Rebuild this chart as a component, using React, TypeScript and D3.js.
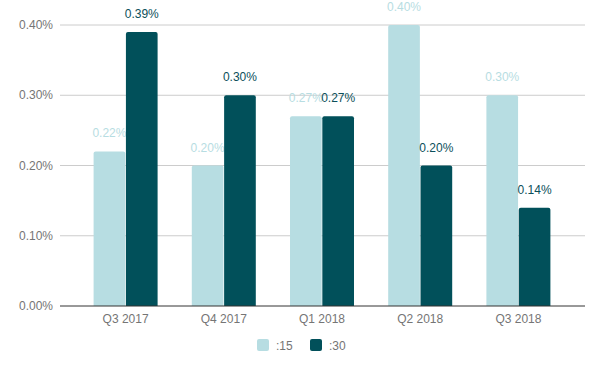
import React from 'react';
import { scaleBand, scaleLinear, format } from 'd3';

const categories = ['Q3 2017', 'Q4 2017', 'Q1 2018', 'Q2 2018', 'Q3 2018'];
const seriesNames = [':15', ':30'];
const values15 = [0.0022, 0.002, 0.0027, 0.004, 0.003];
const values30 = [0.0039, 0.003, 0.0027, 0.002, 0.0014];
const yTicks = [0, 0.001, 0.002, 0.003, 0.004];
const colors = ['#b7dde2', '#01505a'];

const width = 604;
const height = 371;
const gridLeft = 60;
const gridRight = 585;

export default function App() {
  const x = scaleBand<string>().domain(categories).range([76.5, 567.5]).paddingInner(0).paddingOuter(0);
  const inner = scaleBand<string>().domain(seriesNames).range([-32, 32]).paddingInner(0.02);
  const y = scaleLinear().domain([0, 0.004]).range([306, 25]);
  const pct = format('.2%');
  const series = [values15, values30];

  return (
    <svg width={width} height={height} style={{ position: 'absolute', left: 0, top: 0, fontFamily: 'Arial, "Liberation Sans", sans-serif' }}>
      <rect width={width} height={height} fill="#fff" />
      {yTicks.map((t) => (
        <g key={t}>
          {t !== 0 && <line x1={gridLeft} x2={gridRight} y1={y(t)} y2={y(t)} stroke="#cccccc" strokeWidth={1} />}
          <text x={53} y={y(t) + 4} textAnchor="end" fontSize={12} fill="#757575">{pct(t)}</text>
        </g>
      ))}
      {categories.map((c, i) => {
        const cx = (x(c) ?? 0) + x.bandwidth() / 2;
        return (
          <g key={c}>
            {series.map((vals, s) => {
              const bx = cx + (inner(seriesNames[s]) ?? 0);
              const bw = inner.bandwidth();
              const top = y(vals[i]);
              const h = 306 - top;
              return (
                <g key={s}>
                  <path
                    d={`M${bx},306 V${top + 2} Q${bx},${top} ${bx + 2},${top} H${bx + bw - 2} Q${bx + bw},${top} ${bx + bw},${top + 2} V306 Z`}
                    fill={colors[s]}
                  />
                  <text x={bx + bw / 2} y={top - 14} textAnchor="middle" fontSize={12} fill={colors[s] === '#01505a' ? '#0b4f5a' : colors[s]}>
                    {pct(vals[i])}
                  </text>
                  {h < 0 && null}
                </g>
              );
            })}
            <text x={cx} y={323} textAnchor="middle" fontSize={12} fill="#757575">{c}</text>
          </g>
        );
      })}
      <line x1={gridLeft} x2={gridRight} y1={306} y2={306} stroke="#333333" strokeWidth={1} />
      {seriesNames.map((n, s) => {
        const lx = s === 0 ? 257 : 310;
        return (
          <g key={n}>
            <rect x={lx} y={339} width={12} height={12} rx={2} fill={colors[s]} />
            <text x={lx + 19} y={349.5} fontSize={12} fill="#757575">{n}</text>
          </g>
        );
      })}
    </svg>
  );
}
